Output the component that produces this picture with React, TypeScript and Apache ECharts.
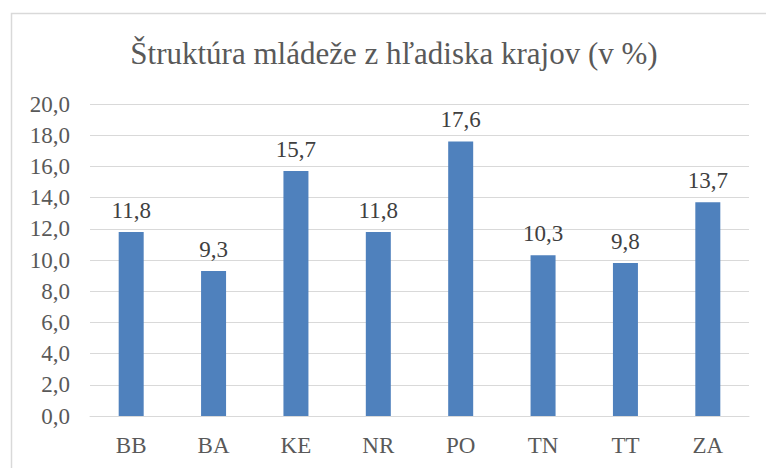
import React, { useEffect, useRef } from "react";
import * as echarts from "echarts";

const categories = ["BB", "BA", "KE", "NR", "PO", "TN", "TT", "ZA"];
const values = [11.8, 9.3, 15.7, 11.8, 17.6, 10.3, 9.8, 13.7];
const titleText = "Štruktúra mládeže z hľadiska krajov (v %)";

const fmt = (v: number) => v.toFixed(1).replace(".", ",");
const TITLE_FONT = "Liberation Serif";
const FONT = "serif";

export default function App() {
  const ref = useRef<HTMLDivElement>(null);
  useEffect(() => {
    if (!ref.current) return;
    const chart = echarts.init(ref.current, undefined, { renderer: "svg" });
    chart.setOption({
      animation: false,
      textStyle: { fontFamily: FONT },
      graphic: [
        {
          type: "rect",
          shape: { x: 11.5, y: 13.5, width: 800, height: 500 },
          style: { fill: "none", stroke: "#d9d9d9", lineWidth: 1.5 },
          silent: true,
        },
        {
          type: "text",
          x: 394,
          y: 53,
          style: {
            text: titleText,
            fontFamily: TITLE_FONT,
            fontSize: 31,
            fill: "#595959",
            align: "center",
            verticalAlign: "middle",
          },
        },
      ],
      grid: { left: 90, right: 17, top: 104, bottom: 52, containLabel: false },
      xAxis: {
        type: "category",
        data: categories,
        axisLine: { show: true, lineStyle: { color: "#d9d9d9", width: 1 } },
        axisTick: { show: false },
        axisLabel: { fontFamily: FONT, fontSize: 23, color: "#595959", margin: 18 },
      },
      yAxis: {
        type: "value",
        min: 0,
        max: 20,
        interval: 2,
        axisLine: { show: false },
        axisTick: { show: false },
        splitLine: { lineStyle: { color: "#d9d9d9", width: 1 } },
        axisLabel: {
          fontFamily: FONT,
          fontSize: 23,
          color: "#595959",
          margin: 20,
          formatter: (v: number) => fmt(v),
        },
      },
      series: [
        {
          type: "bar",
          data: values,
          barWidth: 25,
          itemStyle: { color: "#4f81bd" },
          label: {
            show: true,
            position: "top",
            distance: 10,
            fontFamily: FONT,
            fontSize: 23,
            color: "#404040",
            formatter: (p: any) => fmt(p.value),
          },
        },
      ],
    });
    return () => chart.dispose();
  }, []);
  return (
    <div
      ref={ref}
      style={{ position: "absolute", left: 0, top: 0, width: 766, height: 468 }}
    />
  );
}
